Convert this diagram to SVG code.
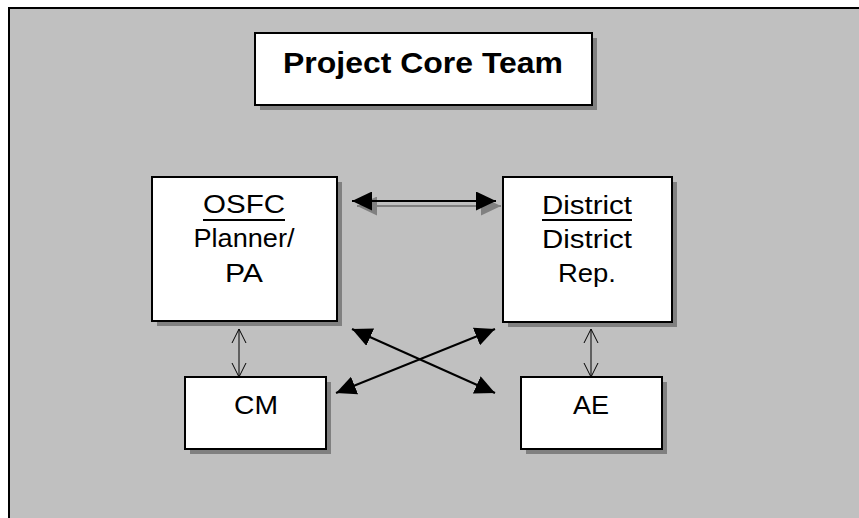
<svg xmlns="http://www.w3.org/2000/svg" width="859" height="518" viewBox="0 0 859 518">
<style>
.bg{fill:#c0c0c0;stroke:#000;stroke-width:2}
.box{fill:#fff;stroke:#000;stroke-width:2}
.shadow{fill:#808080}
.t{font-family:"Liberation Sans",Arial,sans-serif;font-size:26px;fill:#000;text-anchor:middle}
.title{font-family:"Liberation Sans",Arial,sans-serif;font-size:29.5px;font-weight:bold;fill:#000;text-anchor:middle}
.ul{stroke:#000;stroke-width:2}
.thick{stroke:#000;stroke-width:2;fill:none}
.thickS{stroke:#808080;stroke-width:2;fill:none}
.thin{stroke:#000;stroke-width:1;fill:none}
</style>
<defs>
<marker id="headB" markerUnits="userSpaceOnUse" markerWidth="20" markerHeight="19" refX="20" refY="9.5" orient="auto-start-reverse" viewBox="0 0 20 19">
<path d="M0,0 L20,9.5 L0,19 z" fill="#000"/>
</marker>
<marker id="headG" markerUnits="userSpaceOnUse" markerWidth="20" markerHeight="19" refX="20" refY="9.5" orient="auto-start-reverse" viewBox="0 0 20 19">
<path d="M0,0 L20,9.5 L0,19 z" fill="#808080"/>
</marker>
<marker id="headV" markerUnits="userSpaceOnUse" markerWidth="16" markerHeight="16" refX="15" refY="8" orient="auto-start-reverse" viewBox="0 0 16 16">
<path d="M1,1 L15,8 L1,15" fill="none" stroke="#000" stroke-width="1"/>
</marker>
</defs>
<rect class="bg" x="9" y="8" width="870" height="530"/>
<g id="title">
<rect class="shadow" x="260" y="38" width="337" height="72"/>
<rect class="box" x="255" y="33" width="337" height="72"/>
<text class="title" x="423" y="73" textLength="280" lengthAdjust="spacingAndGlyphs">Project Core Team</text>
</g>
<g id="osfc">
<rect class="shadow" x="157" y="182" width="185" height="144"/>
<rect class="box" x="152" y="177" width="185" height="144"/>
<text class="t" x="244" y="213" textLength="82" lengthAdjust="spacingAndGlyphs">OSFC</text>
<line class="ul" x1="203" y1="220" x2="285" y2="220"/>
<text class="t" x="244" y="247" textLength="101" lengthAdjust="spacingAndGlyphs">Planner/</text>
<text class="t" x="244" y="282" textLength="38" lengthAdjust="spacingAndGlyphs">PA</text>
</g>
<g id="district">
<rect class="shadow" x="508" y="182" width="169" height="145"/>
<rect class="box" x="503" y="177" width="169" height="145"/>
<text class="t" x="587" y="214" textLength="90" lengthAdjust="spacingAndGlyphs">District</text>
<line class="ul" x1="542" y1="220" x2="632" y2="220"/>
<text class="t" x="587" y="248" textLength="90" lengthAdjust="spacingAndGlyphs">District</text>
<text class="t" x="587" y="282" textLength="58" lengthAdjust="spacingAndGlyphs">Rep.</text>
</g>
<g id="cm">
<rect class="shadow" x="190" y="382" width="141" height="72"/>
<rect class="box" x="185" y="377" width="141" height="72"/>
<text class="t" x="256" y="414" textLength="44" lengthAdjust="spacingAndGlyphs">CM</text>
</g>
<g id="ae">
<rect class="shadow" x="526" y="382" width="141" height="72"/>
<rect class="box" x="521" y="377" width="141" height="72"/>
<text class="t" x="591" y="414" textLength="36" lengthAdjust="spacingAndGlyphs">AE</text>
</g>
<g id="connectors">
<line class="thickS" x1="357" y1="206" x2="501" y2="206" marker-start="url(#headG)" marker-end="url(#headG)"/>
<line class="thick" x1="352" y1="201" x2="496" y2="201" marker-start="url(#headB)" marker-end="url(#headB)"/>
<line class="thick" x1="352" y1="329" x2="495" y2="393" marker-start="url(#headB)" marker-end="url(#headB)"/>
<line class="thick" x1="336" y1="393" x2="495" y2="329" marker-start="url(#headB)" marker-end="url(#headB)"/>
<line class="thin" x1="239" y1="329" x2="239" y2="377" marker-start="url(#headV)" marker-end="url(#headV)"/>
<line class="thin" x1="591" y1="329" x2="591" y2="377" marker-start="url(#headV)" marker-end="url(#headV)"/>
</g>
</svg>
